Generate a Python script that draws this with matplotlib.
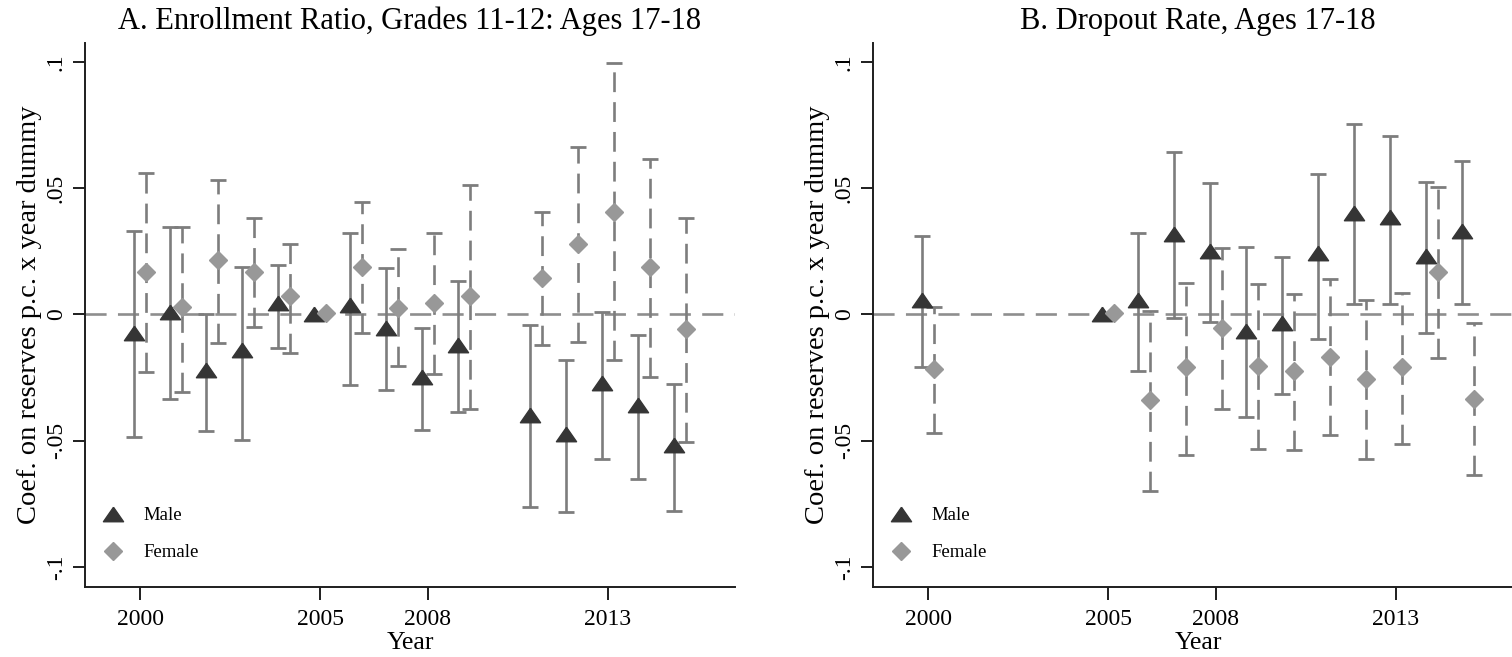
import matplotlib
matplotlib.use("Agg")
import matplotlib.pyplot as plt
import numpy as np

plt.rcParams["font.family"] = ["Liberation Serif", "DejaVu Serif"]

nan = np.nan

# Panel A: enrollment ratio, grades 11-12, ages 17-18
years_a = [2000, 2001, 2002, 2003, 2004, 2005, 2006, 2007, 2008, 2009,
           2011, 2012, 2013, 2014, 2015]
male_a = [-0.0075, 0.001, -0.022, -0.014, 0.0044, 0.0, 0.0037, -0.0055,
          -0.0247, -0.0122, -0.0399, -0.0472, -0.0271, -0.0359, -0.0518]
male_a_lo = [-0.0485, -0.0337, -0.0462, -0.0498, -0.0135, nan, -0.028, -0.030,
             -0.0458, -0.0386, -0.0762, -0.0782, -0.0571, -0.0653, -0.0778]
male_a_hi = [0.0332, 0.0347, 0.0, 0.0189, 0.0196, nan, 0.0321, 0.0182,
             -0.0055, 0.0132, -0.0042, -0.0181, 0.001, -0.0082, -0.0276]
female_a = [0.0169, 0.0028, 0.0215, 0.0169, 0.0073, 0.0004, 0.0189, 0.0024,
            0.0046, 0.0073, 0.0143, 0.0279, 0.0407, 0.0189, -0.0059]
female_a_lo = [-0.0227, -0.0306, -0.0112, -0.0049, -0.0152, nan, -0.0075, -0.0205,
               -0.0236, -0.0376, -0.0122, -0.0108, -0.0181, -0.025, -0.0505]
female_a_hi = [0.0559, 0.0347, 0.0532, 0.038, 0.0279, nan, 0.0447, 0.0258,
               0.0321, 0.0513, 0.0407, 0.0664, 0.0997, 0.0614, 0.038]

# Panel B: dropout rate, ages 17-18
years_b = [2000, 2005, 2006, 2007, 2008, 2009, 2010, 2011, 2012, 2013, 2014, 2015]
male_b = [0.0057, 0.0, 0.0057, 0.0317, 0.0252, -0.0065, -0.0036, 0.0242,
          0.0403, 0.0384, 0.0231, 0.0332]
male_b_lo = [-0.0207, nan, -0.0225, -0.0016, -0.0029, -0.0408, -0.0316, -0.0098,
             0.0041, 0.0041, -0.0073, 0.0041]
male_b_hi = [0.031, nan, 0.0321, 0.0642, 0.0519, 0.0266, 0.0229, 0.0556,
             0.0754, 0.0707, 0.0526, 0.0609]
female_b = [-0.0217, 0.0004, -0.034, -0.021, -0.0055, -0.0205, -0.0223, -0.0168,
            -0.0258, -0.021, 0.0169, -0.0334]
female_b_lo = [-0.0468, nan, -0.0699, -0.0557, -0.0376, -0.0535, -0.0538, -0.0478,
               -0.0571, -0.0515, -0.0174, -0.0637]
female_b_hi = [0.003, nan, 0.0013, 0.0125, 0.0262, 0.012, 0.0079, 0.0139,
               0.0057, 0.0086, 0.0503, -0.0036]

xticks = [2000, 2005, 2008, 2013]
yticks = [-0.1, -0.05, 0, 0.05, 0.1]
ytick_labels = ["-.1", "-.05", "0", ".05", ".1"]

MALE_COLOR = "#353535"
FEMALE_COLOR = "#989898"
CI_COLOR = "#7d7d7d"
AXIS_COLOR = "#1e1e1e"

# wide, flat triangle like Stata's
TRIANGLE = [(0, 0.72), (-1, -0.72), (1, -0.72), (0, 0.72)]


def draw_ci(ax, x, y, lo, hi, dashed):
    x, y, lo, hi = map(np.asarray, (x, y, lo, hi))
    ok = ~np.isnan(lo)
    eb = ax.errorbar(x[ok], y[ok], yerr=[y[ok] - lo[ok], hi[ok] - y[ok]], fmt="none",
                     ecolor=CI_COLOR, elinewidth=1.9, capsize=5.5, capthick=2.0, zorder=2)
    if dashed:
        eb.lines[2][0].set_linestyle((0, (7.5, 3.8)))


def draw_panel(ax, years, male, male_lo, male_hi, female, female_lo, female_hi, title):
    years = np.asarray(years, dtype=float)
    ax.axhline(0, color="#8e8e8e", lw=1.9, dashes=(8, 4.3), zorder=1)
    draw_ci(ax, years - 0.16, male, male_lo, male_hi, dashed=False)
    draw_ci(ax, years + 0.16, female, female_lo, female_hi, dashed=True)
    hm, = ax.plot(years - 0.16, male, ls="none", marker=TRIANGLE, ms=14.5,
                  color=MALE_COLOR, mec=MALE_COLOR, zorder=4, label="Male")
    hf, = ax.plot(years + 0.16, female, ls="none", marker="D", ms=9.5,
                  color=FEMALE_COLOR, mec=FEMALE_COLOR, zorder=4, label="Female")

    ax.set_xlim(1998.47, 2016.53)
    ax.set_ylim(-0.108, 0.1075)
    ax.set_xticks(xticks)
    ax.set_yticks(yticks)
    ax.set_yticklabels(ytick_labels, rotation=90, va="center")
    for side in ("top", "right"):
        ax.spines[side].set_visible(False)
    for side in ("left", "bottom"):
        ax.spines[side].set_linewidth(1.4)
        ax.spines[side].set_color(AXIS_COLOR)
    ax.tick_params(direction="out", length=9, width=1.4, color=AXIS_COLOR, labelsize=17)
    ax.tick_params(axis="x", pad=7)
    ax.tick_params(axis="y", pad=4)
    ax.set_xlabel("Year", fontsize=18.5, labelpad=1)
    ax.set_ylabel("Coef. on reserves p.c. x year dummy", fontsize=20.5, labelpad=3)
    ax.set_title(title, fontsize=22, pad=10)
    ax.legend(handles=[hm, hf], loc="lower left", bbox_to_anchor=(0.0, 0.02),
              frameon=False, fontsize=13.5, handlelength=1.4, handletextpad=0.9,
              labelspacing=1.05, borderpad=0.3)


fig = plt.figure(figsize=(15.12, 6.57), dpi=100)
ax_a = fig.add_axes([85 / 1512, 70 / 657, 650 / 1512, 544 / 657])
ax_b = fig.add_axes([873 / 1512, 70 / 657, 650 / 1512, 544 / 657])

draw_panel(ax_a, years_a, male_a, male_a_lo, male_a_hi,
           female_a, female_a_lo, female_a_hi,
           "A. Enrollment Ratio, Grades 11-12: Ages 17-18")
draw_panel(ax_b, years_b, male_b, male_b_lo, male_b_hi,
           female_b, female_b_lo, female_b_hi,
           "B. Dropout Rate, Ages 17-18")

fig.savefig("out.png", dpi=100)
